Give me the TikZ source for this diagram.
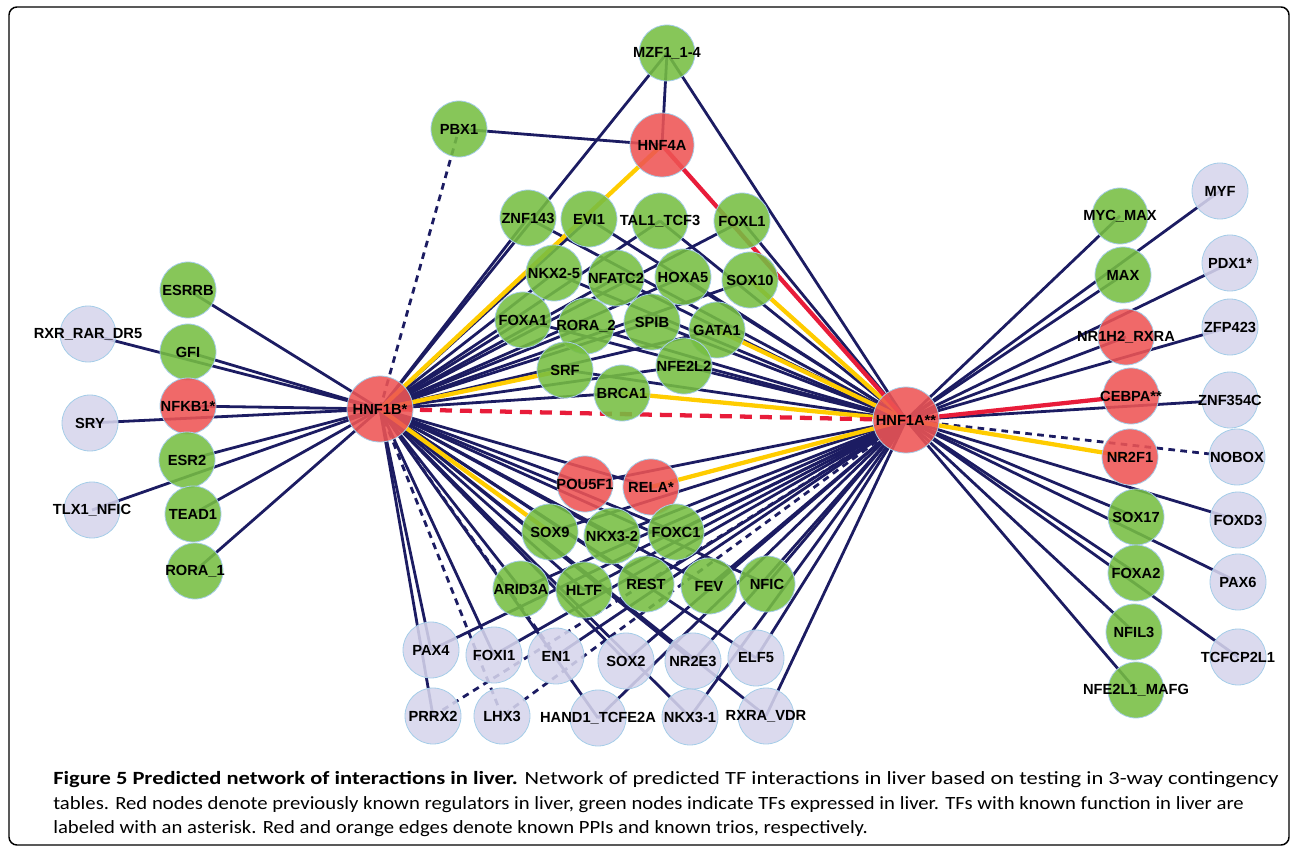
\documentclass[tikz,border=0pt]{standalone}
\usepackage{fontspec}
\setmainfont{Liberation Sans}
\newfontfamily\capfont{Carlito}
\usepackage{graphicx}
\definecolor{livered}{RGB}{238, 84, 84}
\definecolor{exprgreen}{RGB}{118, 190, 66}
\definecolor{otherlav}{RGB}{214, 213, 236}
\definecolor{edgenavy}{RGB}{28, 28, 98}
\definecolor{trioyellow}{RGB}{255, 204, 0}
\definecolor{ppired}{RGB}{232, 28, 58}
\definecolor{rimblue}{RGB}{165, 205, 232}
\usetikzlibrary{positioning, backgrounds}
\newcommand{\nm}[1]{\makebox[0pt]{#1}}

\begin{document}
\begin{tikzpicture}[x=0.75pt, y=-0.75pt,
    tf/.style={circle, minimum size=42pt, inner sep=0pt, draw=rimblue, line width=0.6pt,
               fill opacity=0.88, text opacity=1, font=\fontsize{11}{12}\selectfont\bfseries},
    known/.style={tf, fill=livered},
    hub/.style={known, minimum size=49.5pt},
    expr/.style={tf, fill=exprgreen},
    other/.style={tf, fill=otherlav},
    link/.style={edgenavy, line width=2.1pt},
    weak/.style={link, dash pattern=on 5pt off 4pt},
    trio/.style={trioyellow, line width=3.2pt},
    ppi/.style={ppired, line width=3.2pt}]
    \useasboundingbox (0, 0) rectangle (1292, 848);

    % Frame
    \draw[line width=1.1pt, rounded corners=6pt] (9, 7) rectangle (1289, 845);

    % Hubs
    \node[hub] (hnfb) at (380, 409) {\nm{HNF1B*}};
    \node[hub] (hnfa) at (906, 420) {\nm{HNF1A**}};

    % Top
    \node[expr] (mzf) at (667, 53) {\nm{MZF1\_1-4}};
    \node[expr] (pbx) at (459, 129) {\nm{PBX1}};
    \node[known, minimum size=48pt] (hnf4a) at (662, 145) {\nm{HNF4A}};

    % Upper cluster
    \node[expr] (znf143) at (528, 218) {\nm{ZNF143}};
    \node[expr] (evi1) at (589, 219) {\nm{EVI1}};
    \node[expr] (tal1) at (660, 221) {\nm{TAL1\_TCF3}};
    \node[expr] (foxl1) at (742, 221) {\nm{FOXL1}};
    \node[expr] (nfatc2) at (616, 278) {\nm{NFATC2}};
    \node[expr] (nkx25) at (554, 273) {\nm{NKX2-5}};
    \node[expr] (hoxa5) at (683, 277) {\nm{HOXA5}};
    \node[expr] (sox10) at (750, 280) {\nm{SOX10}};
    \node[expr] (foxa1) at (523, 320) {\nm{FOXA1}};
    \node[expr] (spib) at (652, 322) {\nm{SPIB}};
    \node[expr] (rora2) at (586, 326) {\nm{RORA\_2}};
    \node[expr] (gata1) at (717, 330) {\nm{GATA1}};
    \node[expr] (srf) at (565, 370) {\nm{SRF}};
    \node[expr] (nfe2l2) at (684, 366) {\nm{NFE2L2}};
    \node[expr] (brca1) at (622, 393) {\nm{BRCA1}};

    % Lower cluster
    \node[known] (rela) at (651, 487) {\nm{RELA*}};
    \node[known] (pou5f1) at (585, 484) {\nm{POU5F1}};
    \node[expr] (sox9) at (550, 532) {\nm{SOX9}};
    \node[expr] (foxc1) at (676, 532) {\nm{FOXC1}};
    \node[expr] (nkx32) at (612, 536) {\nm{NKX3-2}};
    \node[expr] (hltf) at (584, 590) {\nm{HLTF}};
    \node[expr] (arid3a) at (521, 589) {\nm{ARID3A}};
    \node[expr] (rest) at (646, 584) {\nm{REST}};
    \node[expr] (fev) at (709, 586) {\nm{FEV}};
    \node[expr] (nfic) at (767, 584) {\nm{NFIC}};

    % Bottom rows
    \node[other] (pax4) at (431, 650) {\nm{PAX4}};
    \node[other] (foxi1) at (494, 655) {\nm{FOXI1}};
    \node[other] (en1) at (556, 656) {\nm{EN1}};
    \node[other] (sox2) at (626, 661) {\nm{SOX2}};
    \node[other] (nr2e3) at (693, 661) {\nm{NR2E3}};
    \node[other] (elf5) at (756, 658) {\nm{ELF5}};
    \node[other] (prrx2) at (433, 716) {\nm{PRRX2}};
    \node[other] (lhx3) at (502, 716) {\nm{LHX3}};
    \node[other] (hand1) at (598, 718) {\nm{HAND1\_TCFE2A}};
    \node[other] (nkx31) at (690, 717) {\nm{NKX3-1}};
    \node[other] (rxra) at (766, 716) {\nm{RXRA\_VDR}};

    % Left side
    \node[expr] (esrrb) at (188, 290) {\nm{ESRRB}};
    \node[other] (rxr) at (88, 334) {\nm{RXR\_RAR\_DR5}};
    \node[expr] (gfi) at (188, 352) {\nm{GFI}};
    \node[known] (nfkb) at (188, 406) {\nm{NFKB1*}};
    \node[other] (sry) at (90, 423) {\nm{SRY}};
    \node[expr] (esr2) at (187, 460) {\nm{ESR2}};
    \node[other] (tlx) at (92, 510) {\nm{TLX1\_NFIC}};
    \node[expr] (tead) at (193, 514) {\nm{TEAD1}};
    \node[expr] (roraone) at (195, 571) {\nm{RORA\_1}};

    % Right side
    \node[expr] (mycmax) at (1120, 216) {\nm{MYC\_MAX}};
    \node[other] (myf) at (1220, 191) {\nm{MYF}};
    \node[expr] (max) at (1123, 275) {\nm{MAX}};
    \node[other] (pdx) at (1230, 263) {\nm{PDX1*}};
    \node[known] (nrh) at (1126, 337) {\nm{NR1H2\_RXRA}};
    \node[other] (zfp) at (1230, 327) {\nm{ZFP423}};
    \node[known] (cebpa) at (1131, 396) {\nm{CEBPA**}};
    \node[other] (znfc) at (1230, 400) {\nm{ZNF354C}};
    \node[known] (nr2f1) at (1130, 457) {\nm{NR2F1}};
    \node[other] (nobox) at (1237, 457) {\nm{NOBOX}};
    \node[expr] (sox17) at (1136, 517) {\nm{SOX17}};
    \node[other] (foxd3) at (1238, 520) {\nm{FOXD3}};
    \node[expr] (foxa2) at (1136, 573) {\nm{FOXA2}};
    \node[other] (pax6) at (1238, 582) {\nm{PAX6}};
    \node[expr] (nfil3) at (1134, 632) {\nm{NFIL3}};
    \node[other] (tcfcp) at (1238, 657) {\nm{TCFCP2L1}};
    \node[expr] (nfel) at (1136, 690) {\nm{NFE2L1\_MAFG}};

    \begin{scope}[on background layer]
        % Navy edges
        \foreach \t in {esrrb, rxr, gfi, nfkb, sry, esr2, tlx, tead, roraone, prrx2}
            \draw[link] (hnfb.center) -- (\t.center);
        \foreach \t in {mycmax, myf, max, nrh, pdx, zfp, znfc, sox17, foxd3, foxa2,
                        pax6, nfil3, tcfcp, nfel, en1}
            \draw[link] (hnfa.center) -- (\t.center);
        \foreach \t in {mzf, znf143, evi1, tal1, foxl1, nkx25, nfatc2, hoxa5, sox10,
                        foxa1, rora2, spib, gata1, srf, nfe2l2, brca1, pou5f1, rela,
                        sox9, nkx32, foxc1, arid3a, hltf, rest, fev, nfic, pax4,
                        foxi1, sox2, nr2e3, elf5, hand1, nkx31, rxra} {
            \draw[link] (hnfb.center) -- (\t.center);
            \draw[link] (hnfa.center) -- (\t.center);
        }
        \draw[link] (mzf.center) -- (hnf4a.center);
        \draw[link] (pbx.center) -- (hnf4a.center);

        % Dashed edges
        \draw[weak] (hnfb.center) -- (pbx.center);
        \draw[weak] (hnfb.center) -- (en1.center);
        \draw[weak] (hnfb.center) -- (lhx3.center);
        \draw[weak] (hnfa.center) -- (lhx3.center);
        \draw[weak] (hnfa.center) -- (prrx2.center);
        \draw[weak] (hnfa.center) -- (nobox.center);

        % Known trios
        \foreach \t in {hnf4a, srf, sox9}
            \draw[trio] (hnfb.center) -- (\t.center);
        \foreach \t in {sox10, gata1, brca1, rela, nr2f1}
            \draw[trio] (hnfa.center) -- (\t.center);

        % Known PPIs
        \draw[ppi] (hnf4a.center) -- (hnfa.center);
        \draw[ppi] (hnfa.center) -- (cebpa.center);
        \draw[ppi, dash pattern=on 9pt off 6pt] (hnfb.center) -- (hnfa.center);
    \end{scope}

    % Caption
    \node[anchor=base west, inner sep=0pt, font=\capfont\fontsize{14}{16}\selectfont] (capa) at (53, 784)
        {\resizebox{919pt}{\height}{\textbf{Figure 5 Predicted network of interactions in liver.} Network of predicted TF interactions in liver based on testing in 3-way contingency}};
    \node[anchor=base west, inner sep=0pt, font=\capfont\fontsize{14}{16}\selectfont] (capb) at (53, 809)
        {\resizebox{893pt}{\height}{tables. Red nodes denote previously known regulators in liver, green nodes indicate TFs expressed in liver. TFs with known function in liver are}};
    \node[anchor=base west, inner sep=0pt, font=\capfont\fontsize{14}{16}\selectfont] (capc) at (53, 833)
        {\resizebox{611pt}{\height}{labeled with an asterisk. Red and orange edges denote known PPIs and known trios, respectively.}};
\end{tikzpicture}
\end{document}
